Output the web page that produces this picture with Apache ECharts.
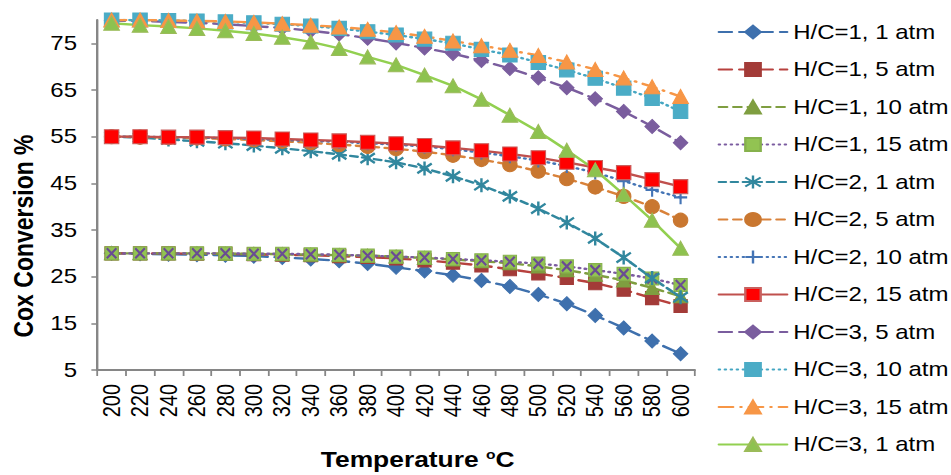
<!DOCTYPE html>
<html>
<head>
<meta charset="utf-8">
<script src="https://cdn.jsdelivr.net/npm/echarts@6/dist/echarts.min.js"></script>
<style>
  html, body { margin: 0; padding: 0; background: #fff; overflow: hidden; }
  /* the reference is stretched sideways, so draw narrow and widen it */
  #chart { width: 793px; height: 475px; transform: scaleX(1.2); transform-origin: 0 0; }
</style>
</head>
<body>
<div id="chart"></div>
<script>
const temps = ['200','220','240','260','280','300','320','340','360','380','400','420','440','460','480','500','520','540','560','580','600']
const yTicks = [5, 80, 10]

const hc1_1 = [30.0, 29.9, 29.8, 29.7, 29.6, 29.4, 29.1, 28.8, 28.4, 27.8, 27.0, 26.2, 25.3, 24.2, 22.9, 21.2, 19.2, 16.7, 14.0, 11.2, 8.5]
const hc1_5 = [30.0, 30.0, 30.0, 29.9, 29.9, 29.8, 29.7, 29.6, 29.4, 29.2, 28.9, 28.5, 28.0, 27.4, 26.6, 25.7, 24.7, 23.6, 22.2, 20.4, 18.7]
const hc1_10 = [30.0, 30.0, 30.0, 30.0, 29.9, 29.9, 29.8, 29.7, 29.6, 29.5, 29.3, 29.0, 28.7, 28.3, 27.9, 27.2, 26.4, 25.4, 24.2, 22.6, 20.8]
const hc1_15 = [30.0, 30.0, 30.0, 30.0, 30.0, 29.9, 29.9, 29.8, 29.7, 29.5, 29.3, 29.1, 28.8, 28.5, 28.2, 27.8, 27.2, 26.4, 25.6, 24.6, 23.2]
const hc2_1 = [55.0, 54.8, 54.4, 54.0, 53.6, 53.1, 52.5, 51.9, 51.2, 50.4, 49.5, 48.2, 46.5, 44.6, 42.2, 39.6, 36.6, 33.2, 29.1, 24.7, 20.6]
const hc2_5 = [55.0, 54.9, 54.8, 54.7, 54.5, 54.3, 54.0, 53.7, 53.3, 52.9, 52.4, 51.8, 51.0, 50.1, 49.0, 47.6, 46.0, 44.2, 42.2, 40.0, 37.1]
const hc2_10 = [55.0, 55.0, 54.9, 54.8, 54.7, 54.5, 54.3, 54.1, 53.9, 53.6, 53.3, 52.9, 52.3, 51.6, 50.8, 49.9, 48.7, 47.3, 45.5, 43.6, 42.0]
const hc2_15 = [55.0, 55.0, 54.9, 54.9, 54.8, 54.7, 54.5, 54.3, 54.1, 53.8, 53.5, 53.1, 52.6, 52.0, 51.3, 50.5, 49.5, 48.4, 47.3, 45.8, 44.3]
const hc3_5 = [79.9, 79.8, 79.6, 79.4, 79.1, 78.7, 78.3, 77.7, 77.0, 76.1, 75.1, 74.0, 72.8, 71.3, 69.6, 67.6, 65.5, 63.1, 60.4, 57.2, 53.7]
const hc3_10 = [80.0, 80.0, 79.9, 79.8, 79.6, 79.4, 79.1, 78.7, 78.2, 77.5, 76.8, 75.9, 75.0, 73.7, 72.5, 70.9, 69.3, 67.5, 65.4, 63.2, 60.4]
const hc3_15 = [80.0, 80.0, 79.9, 79.8, 79.7, 79.5, 79.2, 78.9, 78.5, 78.0, 77.3, 76.5, 75.5, 74.5, 73.5, 72.4, 71.0, 69.4, 67.6, 65.7, 63.6]
const hc3_1 = [79.3, 78.9, 78.6, 78.2, 77.7, 77.1, 76.3, 75.3, 73.9, 72.1, 70.4, 68.2, 65.9, 63.0, 59.6, 56.1, 52.1, 47.9, 42.6, 37.1, 31.1]

const font = 'Liberation Sans, Arial, sans-serif'
const starPath = 'path://M5,0L5,10M0.7,1.5L9.3,8.5M0.7,8.5L9.3,1.5'
const plusPath = 'path://M5,0L5,10M0,5L10,5'
const crossPath = 'path://M0,0L10,10M0,10L10,0'

// marker sizes are narrowed by 1.2 so they come out square after the stretch
function line(name, data, color, dash, symbol, size, markFill, markBorder) {
  return {
    name: name,
    type: 'line',
    data: data,
    symbol: symbol,
    symbolSize: size,
    showAllSymbol: true,
    lineStyle: { color: color, width: 2.4, type: dash, cap: 'round' },
    itemStyle: { color: markFill || color, borderColor: markBorder || markFill || color, borderWidth: 1 }
  }
}

const series = [
  line('H/C=1, 1 atm', hc1_1, '#3E70AD', [11, 6], 'diamond', [12, 14]),
  line('H/C=1, 5 atm', hc1_5, '#B7413E', [11, 6], 'rect', [11, 13], '#A33B38'),
  line('H/C=1, 10 atm', hc1_10, '#7F9E40', [7, 5], 'triangle', [12, 13]),
  line('H/C=1, 15 atm', hc1_15, '#7B5CA0', [1, 4], 'rect', [11, 13], '#92C352', '#86B14C'),
  {
    name: 'H/C=1, 15 atm',
    type: 'line',
    data: hc1_15,
    symbol: crossPath,
    symbolSize: [8, 10],
    showAllSymbol: true,
    lineStyle: { opacity: 0 },
    itemStyle: { color: '#6A4C93', borderColor: '#6A4C93', borderWidth: 2 }
  },
  line('H/C=2, 1 atm', hc2_1, '#31879E', [6, 4], starPath, [12, 14], '#31879E', '#31879E'),
  line('H/C=2, 5 atm', hc2_5, '#D9823A', [7, 5], 'circle', [12, 14], '#C97730'),
  line('H/C=2, 10 atm', hc2_10, '#4474B5', [1, 4], plusPath, [11, 14], '#4474B5', '#4474B5'),
  line('H/C=2, 15 atm', hc2_15, '#C0504D', 'solid', 'rect', [12, 14], '#FF0000', '#C9605E'),
  line('H/C=3, 5 atm', hc3_5, '#7A5D9E', [11, 6], 'diamond', [12, 14]),
  line('H/C=3, 10 atm', hc3_10, '#45A6C2', [1, 4], 'rect', [12, 14], '#4BACC6'),
  line('H/C=3, 15 atm', hc3_15, '#F79646', [12, 6, 1, 6], 'triangle', [13, 14]),
  line('H/C=3, 1 atm', hc3_1, '#92D050', 'solid', 'triangle', [13, 14], '#8DC24F', '#9BBB59')
]
series[5].itemStyle.borderWidth = 2.2
series[7].itemStyle.borderWidth = 2

const chart = echarts.init(document.getElementById('chart'), null, { renderer: 'svg' })
chart.setOption({
  animation: false,
  backgroundColor: '#fff',
  textStyle: { fontFamily: font },
  grid: { left: 79, right: 214, top: 20, bottom: 105 },
  legend: {
    orient: 'vertical',
    left: 593,
    top: 17,
    itemWidth: 57,
    itemHeight: 16,
    itemGap: 17.5,
    textStyle: { fontSize: 20, color: '#000', fontFamily: font, lineHeight: 20 }
  },
  xAxis: {
    type: 'category',
    data: temps,
    boundaryGap: true,
    name: 'Temperature {sup|o}C',
    nameLocation: 'middle',
    nameGap: 78,
    nameTextStyle: {
      fontSize: 22, fontWeight: 'bold', color: '#000', fontFamily: font,
      padding: [0, 0, 0, 36],
      rich: { sup: { fontSize: 13, fontWeight: 'bold', verticalAlign: 'top', lineHeight: 22, color: '#000' } }
    },
    axisLine: { lineStyle: { color: '#868686', width: 2 } },
    axisTick: { show: true, length: 6, lineStyle: { color: '#868686', width: 1.5 } },
    axisLabel: { rotate: 90, margin: 14, fontSize: 20, color: '#000', fontFamily: font, interval: 0 },
    splitLine: { show: false }
  },
  yAxis: {
    type: 'value',
    min: yTicks[0],
    max: yTicks[1],
    interval: yTicks[2],
    name: 'Cox Conversion %',
    nameLocation: 'middle',
    nameGap: 50,
    nameTextStyle: { fontSize: 23, fontWeight: 'bold', color: '#000', fontFamily: font, padding: [0, 82, 0, 0] },
    axisLine: { show: true, lineStyle: { color: '#868686', width: 2 } },
    axisTick: { show: true, length: 5, lineStyle: { color: '#868686', width: 1.5 } },
    axisLabel: { margin: 17, fontSize: 20, color: '#000', fontFamily: font, showMaxLabel: false },
    splitLine: { show: false }
  },
  series: series
})
</script>
</body>
</html>
